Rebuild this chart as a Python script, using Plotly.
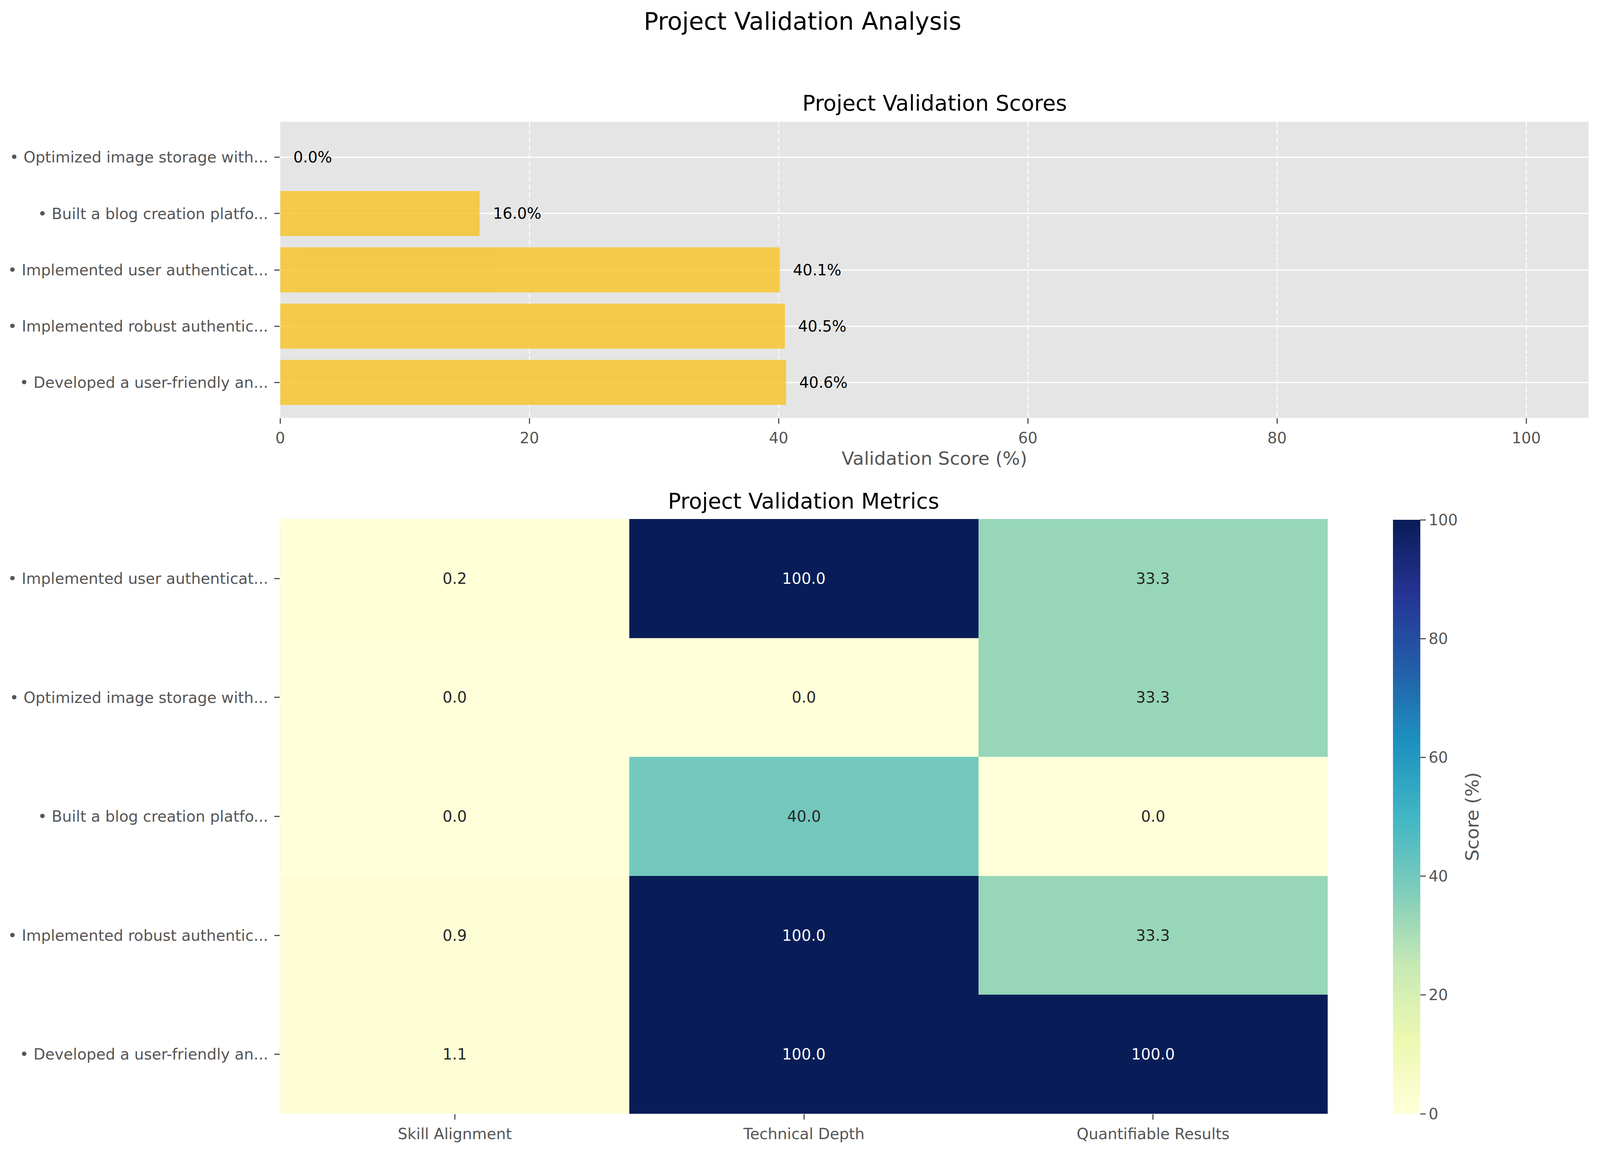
import plotly.graph_objects as go
import plotly.colors as pc

# bar chart data (listed bottom -> top)
bar_projects = [
    "• Developed a user-friendly an...",
    "• Implemented robust authentic...",
    "• Implemented user authenticat...",
    "• Built a blog creation platfo...",
    "• Optimized image storage with...",
]
validation_scores = [40.6, 40.5, 40.1, 16.0, 0.0]

# heatmap data (listed top -> bottom)
metric_names = ["Skill Alignment", "Technical Depth", "Quantifiable Results"]
heat_projects = [
    "• Implemented user authenticat...",
    "• Optimized image storage with...",
    "• Built a blog creation platfo...",
    "• Implemented robust authentic...",
    "• Developed a user-friendly an...",
]
skill_alignment = [0.2, 0.0, 0.0, 0.9, 1.1]
technical_depth = [100.0, 0.0, 40.0, 100.0, 100.0]
quantifiable_results = [33.3, 33.3, 0.0, 33.3, 100.0]

# the browser viewport is 4096 x 2955, positions below are taken from the 4470 x 2955 original
W, H = 4096, 2955
RW = 4470
FONT = "DejaVu Sans"
GREY = "#555555"
TICK = 39


def fx(px):
    return px / RW


def fy(py):
    return 1 - py / H


z = [list(r) for r in zip(skill_alignment, technical_depth, quantifiable_results)]

ylgnbu = pc.sequential.YlGnBu
n = len(ylgnbu)
colorscale = [[i / (n - 1), c] for i, c in enumerate(ylgnbu)]

fig = go.Figure()

fig.add_trace(
    go.Bar(
        x=validation_scores,
        y=bar_projects,
        orientation="h",
        width=0.8,
        marker=dict(color="rgb(247,195,36)", line=dict(width=0)),
        opacity=0.8,
        xaxis="x",
        yaxis="y",
        showlegend=False,
    )
)

fig.add_trace(
    go.Heatmap(
        z=z,
        x=metric_names,
        y=heat_projects,
        colorscale=colorscale,
        zmin=0,
        zmax=100,
        xaxis="x2",
        yaxis="y2",
        colorbar=dict(
            thickness=70,
            thicknessmode="pixels",
            len=fy(1331) - fy(2852),
            lenmode="fraction",
            x=fx(3890),
            xanchor="left",
            y=fy(2852),
            yanchor="bottom",
            xpad=0,
            ypad=0,
            outlinewidth=0,
            ticks="outside",
            ticklen=14,
            tickwidth=3,
            tickcolor=GREY,
            dtick=20,
            tickfont=dict(size=TICK, color=GREY, family=FONT),
        ),
    )
)

annotations = []
# value labels next to bars
for name, s in zip(bar_projects, validation_scores):
    annotations.append(
        dict(
            x=s + 1, y=name, xref="x", yref="y", text=f"{s:.1f}%",
            showarrow=False, xanchor="left", yanchor="middle",
            font=dict(size=TICK, color="black", family=FONT),
        )
    )
# cell labels
for r, name in enumerate(heat_projects):
    for c, metric in enumerate(metric_names):
        v = z[r][c]
        annotations.append(
            dict(
                x=metric, y=name, xref="x2", yref="y2", text=f"{v:.1f}",
                showarrow=False, xanchor="center", yanchor="middle",
                font=dict(size=TICK, color="white" if v > 60 else "#262626", family=FONT),
            )
        )
# titles
annotations.append(dict(x=0.5, y=fy(55), xref="paper", yref="paper", text="Project Validation Analysis",
                        showarrow=False, xanchor="center", yanchor="middle",
                        font=dict(size=62, color="black", family=FONT)))
annotations.append(dict(x=fx(2605), y=fy(264), xref="paper", yref="paper", text="Project Validation Scores",
                        showarrow=False, xanchor="center", yanchor="middle",
                        font=dict(size=55, color="black", family=FONT)))
annotations.append(dict(x=fx(2238), y=fy(1283), xref="paper", yref="paper", text="Project Validation Metrics",
                        showarrow=False, xanchor="center", yanchor="middle",
                        font=dict(size=55, color="black", family=FONT)))
# colorbar label
annotations.append(dict(x=fx(4111), y=fy(2091), xref="paper", yref="paper", text="Score (%)",
                        showarrow=False, xanchor="center", yanchor="middle", textangle=-90,
                        font=dict(size=47, color=GREY, family=FONT)))

axis_common = dict(
    ticks="outside", ticklen=14, tickwidth=3, tickcolor=GREY,
    tickfont=dict(size=TICK, color=GREY, family=FONT),
    showline=False, zeroline=False,
)

fig.update_layout(
    width=W,
    height=H,
    margin=dict(l=0, r=0, t=0, b=0),
    paper_bgcolor="white",
    plot_bgcolor="#E5E5E5",
    font=dict(family=FONT, color=GREY),
    showlegend=False,
    annotations=annotations,
    xaxis=dict(
        domain=[fx(772), fx(4438)], anchor="y", range=[0, 105], dtick=20,
        showgrid=True, gridcolor="rgba(255,255,255,0.75)", gridwidth=3, griddash="14px,6px",
        title=dict(text="Validation Score (%)", font=dict(size=47, color=GREY, family=FONT), standoff=14),
        ticklabelstandoff=3,
        **axis_common,
    ),
    yaxis=dict(
        domain=[fy(1070), fy(312)], anchor="x", type="category",
        categoryorder="array", categoryarray=bar_projects, range=[-0.63, 4.63],
        showgrid=True, gridcolor="white", gridwidth=3,
        ticklabelstandoff=8,
        **axis_common,
    ),
    xaxis2=dict(
        domain=[fx(772), fx(3707)], anchor="y2", showgrid=False,
        ticklabelstandoff=3,
        **axis_common,
    ),
    yaxis2=dict(
        domain=[fy(2852), fy(1329)], anchor="x2", autorange="reversed", showgrid=False,
        ticklabelstandoff=8,
        **axis_common,
    ),
)

fig.write_html(
    "out.html",
    config={"displayModeBar": False},
    post_script="document.body.style.margin='0';",
)
